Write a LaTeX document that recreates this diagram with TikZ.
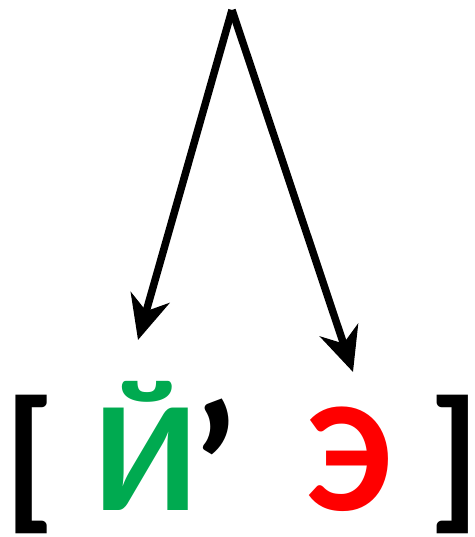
\documentclass[tikz,border=0pt]{standalone}
\usepackage{fontspec}
\setmainfont{Carlito}
\usetikzlibrary{arrows.meta}
\definecolor{gr}{RGB}{0,170,80}
\definecolor{rd}{RGB}{255,0,0}
\begin{document}
\begin{tikzpicture}[x=1pt,y=-1pt,
  glyph/.style={inner sep=0pt,anchor=base west,font=\fontsize{158}{158}\selectfont\bfseries},
  arr/.style={line width=7.5pt,-{Stealth[length=44pt,width=40pt,inset=14pt]}}]
\useasboundingbox (0,0) rectangle (474,537);
\coordinate (top) at (232,10);
\coordinate (tipY) at (138,340);
\coordinate (tipE) at (353,372);
\node[glyph] (lb) at (4,510) {[};
\node[glyph,text=gr] (y) at (94,510) {Й};
\node[glyph,font=\fontsize{185}{185}\selectfont\bfseries] (ap) at (191,533) {’};
\node[glyph,text=rd] (e) at (306,510) {Э};
\node[glyph] (rb) at (428,510) {]};
\draw[arr] (top) -- (tipY);
\draw[arr] (top) -- (tipE);
\end{tikzpicture}
\end{document}
